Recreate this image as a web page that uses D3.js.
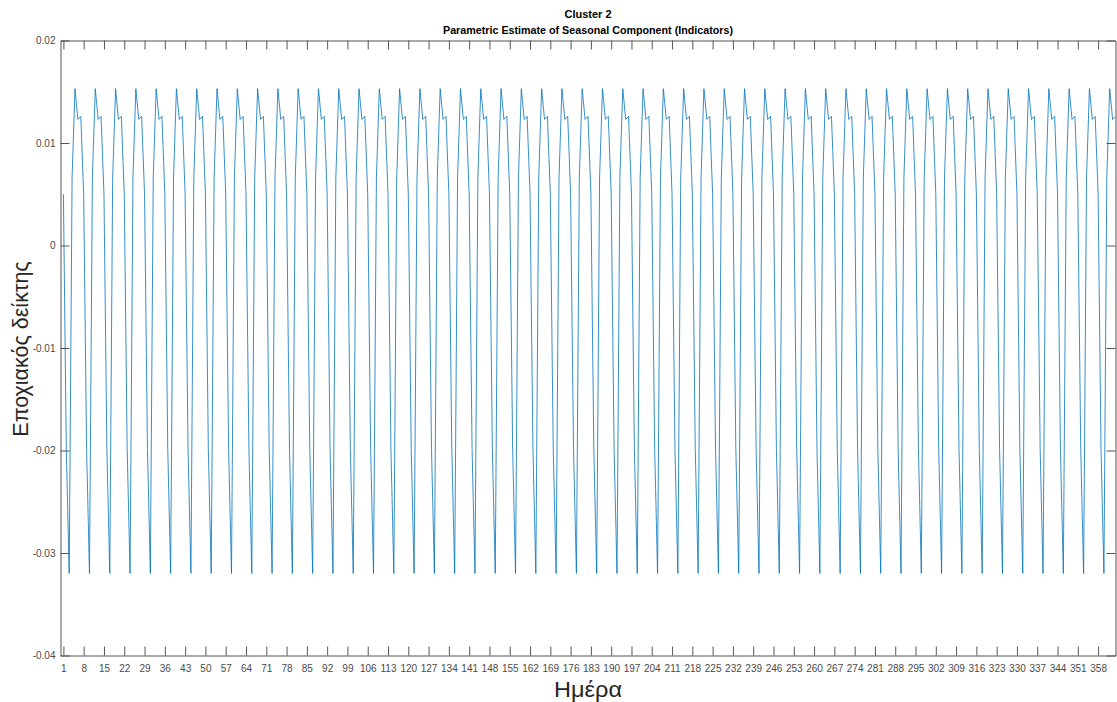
<!DOCTYPE html>
<html>
<head>
<meta charset="utf-8">
<script src="https://cdn.jsdelivr.net/npm/d3@7"></script>
<style>
  html, body { margin: 0; padding: 0; background: #ffffff; }
  svg { display: block; }
  text { font-family: "Liberation Sans", Arial, sans-serif; }
</style>
</head>
<body>
<svg id="chart" width="1117" height="702"></svg>
<script>
// Seasonal indicator for each day of the week (day 1 falls on index 0)
const seasonalIndicators = [0.0050, -0.0198, -0.0320, 0.0066, 0.0153, 0.0123, 0.0126];
// Days of the year covered by the estimate
const days = d3.range(1, 365);
// Axis tick values and labels
const xTicks = d3.range(1, 359, 7);
const yTicks = [0.02, 0.01, 0, -0.01, -0.02, -0.03, -0.04];
const yTickLabels = ["0.02", "0.01", "0", "-0.01", "-0.02", "-0.03", "-0.04"];
const titleLines = ["Cluster 2", "Parametric Estimate of Seasonal Component (Indicators)"];
const xLabel = "Ημέρα";
const yLabel = "Εποχιακός δείκτης";

const series = days.map(d => ({ day: d, value: seasonalIndicators[(d - 1) % 7] }));

const svg = d3.select("#chart");
const box = { left: 60.5, right: 1115.5, top: 40.5, bottom: 655.5 };

const x = d3.scaleLinear().domain([0, 364]).range([box.left, box.right]);
const y = d3.scaleLinear().domain([-0.04, 0.02]).range([box.bottom, box.top]);

const axisColor = "#555555";
const labelColor = "#4a4a4a";

// Plot area clip
svg.append("defs").append("clipPath").attr("id", "plotClip")
  .append("rect")
  .attr("x", box.left).attr("y", box.top)
  .attr("width", box.right - box.left).attr("height", box.bottom - box.top);

// Data line
svg.append("path")
  .datum(series)
  .attr("clip-path", "url(#plotClip)")
  .attr("fill", "none")
  .attr("stroke", "#0072BD")
  .attr("stroke-width", 0.8)
  .attr("stroke-linejoin", "round")
  .attr("d", d3.line().x(d => x(d.day)).y(d => y(d.value)));

// Axes: ticks drawn inward on all four sides
const tickLen = 9;
const xBottom = d3.axisBottom(x).tickValues(xTicks).tickSizeInner(-tickLen).tickSizeOuter(0).tickPadding(9);
const xTop = d3.axisTop(x).tickValues(xTicks).tickSizeInner(-tickLen).tickSizeOuter(0).tickFormat("");
const yLeft = d3.axisLeft(y).tickValues(yTicks).tickSizeInner(-tickLen).tickSizeOuter(0)
  .tickPadding(5).tickFormat((d, i) => yTickLabels[i]);
const yRight = d3.axisRight(y).tickValues(yTicks).tickSizeInner(-tickLen).tickSizeOuter(0).tickFormat("");

function styleAxis(g) {
  g.select(".domain").attr("stroke", axisColor).attr("stroke-width", 1);
  g.selectAll(".tick line").attr("stroke", axisColor).attr("stroke-width", 1);
  g.selectAll(".tick text").attr("fill", labelColor).attr("font-size", 10)
    .attr("font-family", "Liberation Sans, Arial, sans-serif");
}

svg.append("g").attr("transform", `translate(0,${box.bottom})`).call(xBottom).call(styleAxis);
svg.append("g").attr("transform", `translate(0,${box.top})`).call(xTop).call(styleAxis);
svg.append("g").attr("transform", `translate(${box.left},0)`).call(yLeft).call(styleAxis);
svg.append("g").attr("transform", `translate(${box.right},0)`).call(yRight).call(styleAxis);

// Titles
const cx = (box.left + box.right) / 2;
svg.append("text").attr("x", cx).attr("y", 18).attr("text-anchor", "middle")
  .attr("font-size", 11).attr("font-weight", "bold").attr("fill", "#000").text(titleLines[0]);
svg.append("text").attr("x", cx).attr("y", 34).attr("text-anchor", "middle")
  .attr("font-size", 11).attr("font-weight", "bold").attr("fill", "#000")
  .attr("textLength", 290).attr("lengthAdjust", "spacingAndGlyphs").text(titleLines[1]);

// Axis labels
svg.append("text").attr("x", cx).attr("y", 697).attr("text-anchor", "middle")
  .attr("font-size", 22).attr("fill", "#262626")
  .attr("textLength", 68).attr("lengthAdjust", "spacingAndGlyphs").text(xLabel);
svg.append("text").attr("transform", `translate(28,349) rotate(-90)`)
  .attr("text-anchor", "middle").attr("font-size", 21.5).attr("fill", "#262626")
  .text(yLabel);
</script>
</body>
</html>
